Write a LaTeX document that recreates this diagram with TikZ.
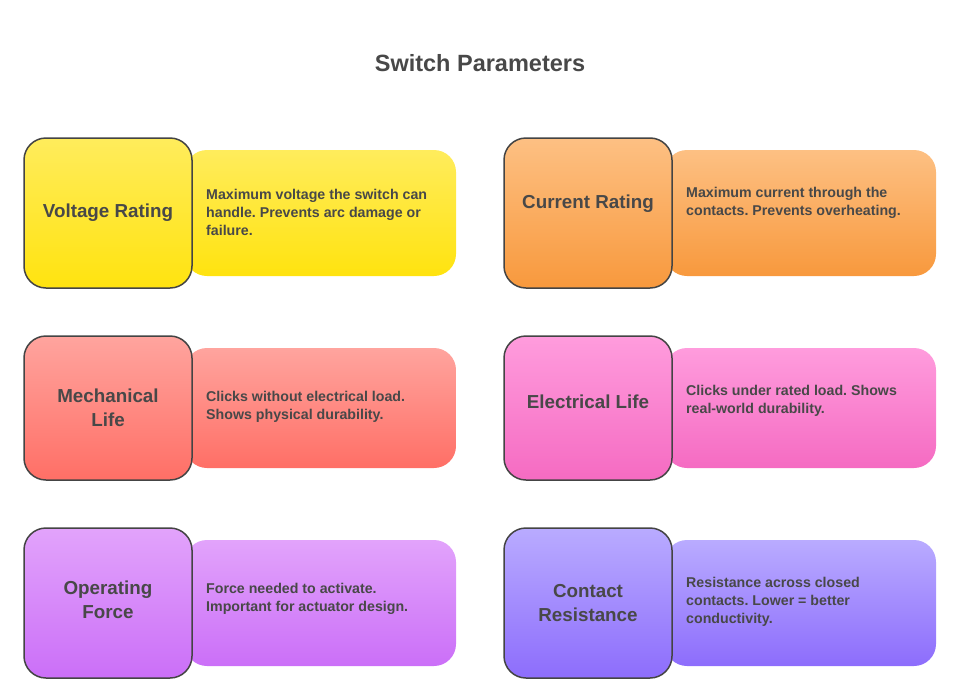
\documentclass[tikz,border=0pt]{standalone}
\usepackage{fontspec}
\setmainfont{Liberation Sans}
\frenchspacing
\definecolor{txt}{HTML}{484848}
\definecolor{ytop}{HTML}{FFEC5C}\definecolor{ybot}{HTML}{FFE30F}
\definecolor{otop}{HTML}{FDC083}\definecolor{obot}{HTML}{F8993D}
\definecolor{rtop}{HTML}{FFA49E}\definecolor{rbot}{HTML}{FF6F66}
\definecolor{ptop}{HTML}{FF9CDD}\definecolor{pbot}{HTML}{F56BC2}
\definecolor{utop}{HTML}{E2A3FB}\definecolor{ubot}{HTML}{CB6FF8}
\definecolor{vtop}{HTML}{B9ABFF}\definecolor{vbot}{HTML}{8D6DFC}
\definecolor{edge}{HTML}{444444}
\tikzset{
  backbox/.style={rounded corners=22pt},
  sqbox/.style={draw=edge, line width=1.5pt, rounded corners=22pt},
  lab/.style={font=\bfseries\fontsize{18.8}{24}\selectfont, text=txt, align=center, inner sep=0pt},
  desc/.style={font=\bfseries\fontsize{14.2}{18}\selectfont, text=txt, align=left, anchor=west, inner sep=0pt},
}
\begin{document}
\begin{tikzpicture}[x=1pt,y=-1pt]
\useasboundingbox (0,0) rectangle (960,680);
\node[font=\bfseries\fontsize{23.5}{28}\selectfont, text=txt] (title) at (480,63) {Switch Parameters};
% Row 1 left
\shade[backbox, top color=ytop, bottom color=ybot] (185,150) rectangle (456,276);
\shade[sqbox, top color=ytop, bottom color=ybot] (24,138) rectangle (192,288);
\node[lab] (l1) at (108,213) {Voltage Rating};
\node[desc] (d1) at (206,212) {Maximum voltage the switch can\\handle. Prevents arc damage or\\failure.};
% Row 1 right
\shade[backbox, top color=otop, bottom color=obot] (665,150) rectangle (936,276);
\shade[sqbox, top color=otop, bottom color=obot] (504,138) rectangle (672,288);
\node[lab] (l2) at (588,204) {Current Rating};
\node[desc] (d2) at (686,203) {Maximum current through the\\contacts. Prevents overheating.};
% Row 2 left
\shade[backbox, top color=rtop, bottom color=rbot] (185,348) rectangle (456,468);
\shade[sqbox, top color=rtop, bottom color=rbot] (24,336) rectangle (192,480);
\node[lab] (l3) at (108,408) {Mechanical\\Life};
\node[desc] (d3) at (206,407) {Clicks without electrical load.\\Shows physical durability.};
% Row 2 right
\shade[backbox, top color=ptop, bottom color=pbot] (665,348) rectangle (936,468);
\shade[sqbox, top color=ptop, bottom color=pbot] (504,336) rectangle (672,480);
\node[lab] (l4) at (588,402) {Electrical Life};
\node[desc] (d4) at (686,401) {Clicks under rated load. Shows\\real-world durability.};
% Row 3 left
\shade[backbox, top color=utop, bottom color=ubot] (185,540) rectangle (456,666);
\shade[sqbox, top color=utop, bottom color=ubot] (24,528) rectangle (192,678);
\node[lab] (l5) at (108,600) {Operating\\Force};
\node[desc] (d5) at (206,599) {Force needed to activate.\\Important for actuator design.};
% Row 3 right
\shade[backbox, top color=vtop, bottom color=vbot] (665,540) rectangle (936,666);
\shade[sqbox, top color=vtop, bottom color=vbot] (504,528) rectangle (672,678);
\node[lab] (l6) at (588,603) {Contact\\Resistance};
\node[desc] (d6) at (686,602) {Resistance across closed\\contacts. Lower = better\\conductivity.};
\end{tikzpicture}
\end{document}
